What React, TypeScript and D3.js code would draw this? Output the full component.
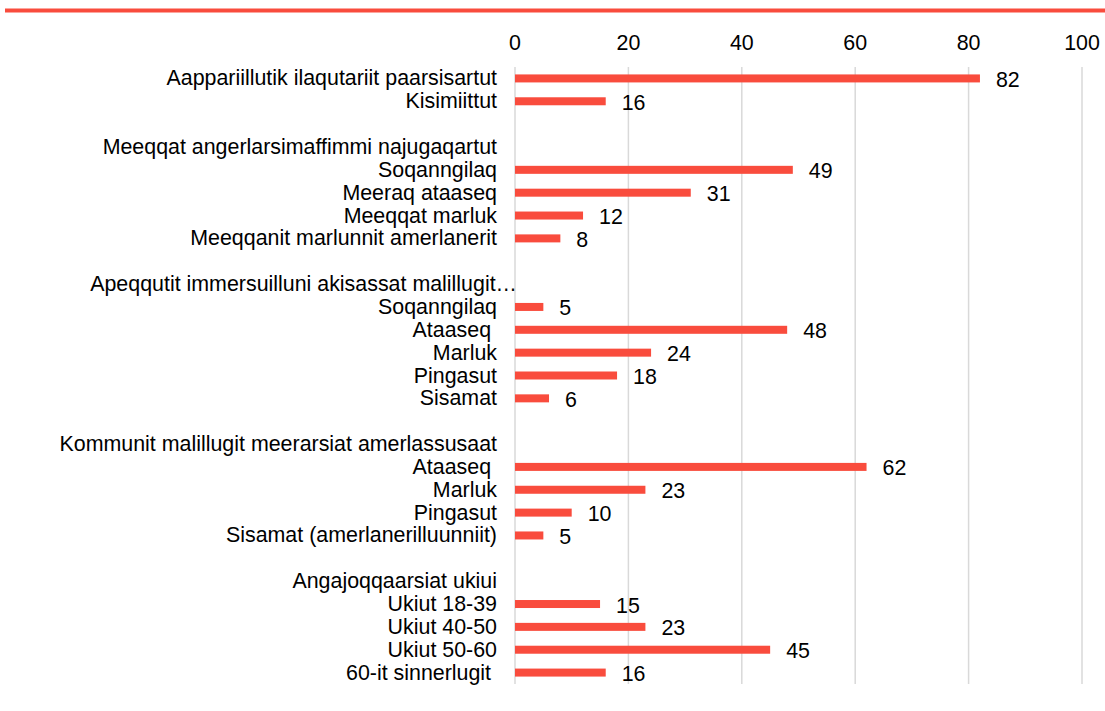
import React from "react";
import * as d3 from "d3";

const labels: string[] = [
  "Aappariillutik ilaqutariit paarsisartut",
  "Kisimiittut",
  "",
  "Meeqqat angerlarsimaffimmi najugaqartut",
  "Soqanngilaq",
  "Meeraq ataaseq",
  "Meeqqat marluk",
  "Meeqqanit marlunnit amerlanerit",
  "",
  "Apeqqutit immersuilluni akisassat malillugit…",
  "Soqanngilaq",
  "Ataaseq ",
  "Marluk",
  "Pingasut",
  "Sisamat",
  "",
  "Kommunit malillugit meerarsiat amerlassusaat",
  "Ataaseq ",
  "Marluk",
  "Pingasut",
  "Sisamat (amerlanerilluunniit)",
  "",
  "Angajoqqaarsiat ukiui",
  "Ukiut 18-39",
  "Ukiut 40-50",
  "Ukiut 50-60",
  "60-it sinnerlugit ",
];

const values: (number | null)[] = [
  82, 16, null,
  null, 49, 31, 12, 8, null,
  null, 5, 48, 24, 18, 6, null,
  null, 62, 23, 10, 5, null,
  null, 15, 23, 45, 16,
];

const ticks: number[] = [0, 20, 40, 60, 80, 100];

const W = 1105;
const H = 711;
const RED = "#F94C3D";
const FONT = "Liberation Sans, Arial, sans-serif";
const FS = 21.4;

export default function App() {
  const x = d3.scaleLinear().domain([0, 100]).range([515, 1082]);
  const idx = labels.map((_, i) => String(i));
  const y = d3.scaleBand<string>().domain(idx).range([67, 684]).paddingInner(0).paddingOuter(0);
  const barH = 8;
  const labelX = 497;

  return (
    <svg width={W} height={H} style={{ position: "absolute", left: 0, top: 0 }}>
      <rect x={0} y={0} width={W} height={H} fill="#fff" />
      <rect x={5} y={8.5} width={W - 5} height={4} fill={RED} />
      {ticks.map((t) => (
        <g key={t}>
          <line x1={x(t)} x2={x(t)} y1={67} y2={684} stroke="#d9d9d9" strokeWidth={1.5} />
          <text
            x={x(t)}
            y={43}
            textAnchor="middle"
            dominantBaseline="central"
            fontFamily={FONT}
            fontSize={FS}
            fill="#000"
          >
            {t}
          </text>
        </g>
      ))}
      {labels.map((lab, i) => {
        const cy = (y(String(i)) as number) + y.bandwidth() / 2;
        const v = values[i];
        const isEllipsis = lab.endsWith("…");
        return (
          <g key={i}>
            {lab && (
              <text
                x={isEllipsis ? 517 : labelX}
                y={cy}
                textAnchor="end"
                dominantBaseline="central"
                fontFamily={FONT}
                fontSize={FS}
                fill="#000"
                style={{ whiteSpace: "pre" }}
              >
                {lab}
              </text>
            )}
            {v !== null && (
              <>
                <rect x={x(0)} y={cy - barH / 2} width={x(v) - x(0)} height={barH} fill={RED} />
                <text
                  x={x(v) + 16}
                  y={cy + 1.5}
                  dominantBaseline="central"
                  fontFamily={FONT}
                  fontSize={FS}
                  fill="#000"
                >
                  {v}
                </text>
              </>
            )}
          </g>
        );
      })}
    </svg>
  );
}
